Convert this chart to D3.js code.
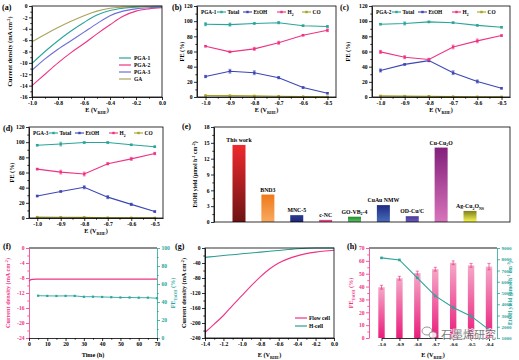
<!DOCTYPE html>
<html><head><meta charset="utf-8">
<script src="https://cdn.jsdelivr.net/npm/d3@7"></script>
<style>
body{margin:0;background:#fff}
svg{display:block}
text{font-family:'Liberation Serif','Times New Roman',serif;font-weight:bold}
</style>
</head><body>
<svg id="c" width="519" height="360"></svg>
<script>
// ---------- DATA ----------
// (a) LSV
const lsvE = [-1.0,-0.9,-0.8,-0.7,-0.6,-0.5,-0.4,-0.3,-0.2,-0.1,0.0];
const lsvPGA1 = [-10.1,-8.0,-6.1,-4.4,-2.9,-1.6,-0.8,-0.4,-0.2,-0.1,-0.1];
const lsvPGA2 = [-14.0,-12.0,-10.0,-8.2,-6.6,-4.9,-3.3,-1.8,-0.9,-0.5,-0.3];
const lsvPGA3 = [-11.3,-9.3,-7.6,-6.1,-4.6,-3.1,-1.7,-0.9,-0.5,-0.3,-0.2];
const lsvGA = [-6.3,-5.0,-3.8,-2.7,-1.7,-0.9,-0.4,-0.2,-0.1,-0.05,0.0];
const lsvNames = ["PGA-1","PGA-2","PGA-3","GA"];

// (b)(c)(d) FE
const feE = [-1.0,-0.9,-0.8,-0.7,-0.6,-0.5];
const feSeries = ["Total","EtOH","H2","CO"];
const pga1Total = [96,95.5,97,98,94,93];
const pga1EtOH = [27,34,32,25.5,12.5,5];
const pga1H2 = [67,59.5,63.5,71.5,81.5,88];
const pga1CO = [2,1.8,1.5,1,0.5,0.3];
const pga1Err = [[2,2,1,1.5,1,1.2],[1.5,2.5,2.5,1.5,1,1],[1,1,2,2,1,1.8],[0.5,0.5,0.4,0.3,0.2,0.2]];
const pga2Total = [96,97,99,98,94.5,92];
const pga2EtOH = [35,43,48,32,20.5,11.5];
const pga2H2 = [59.5,52.5,49.5,66,74,81];
const pga2CO = [1.5,1.2,1,0.5,0.3,0.2];
const pga2Err = [[1,2,1,1,1,1],[2,1,1.5,2.5,2,1],[2,2,1.5,2.5,2.5,1],[0.4,0.4,0.3,0.2,0.2,0.2]];
const pga3Total = [96,97.5,99.5,99.5,96.5,94];
const pga3EtOH = [29,35,40.5,27.5,18,8.5];
const pga3H2 = [64.5,60.5,58,71.5,78,85];
const pga3CO = [1.2,1,0.8,0.4,0.2,0.1];
const pga3Err = [[1,2.5,1,1,1,1],[1,1,2,2,1.5,1],[1,2.5,2.5,1.5,2,1.5],[0.3,0.3,0.3,0.2,0.1,0.1]];

// (e) yield comparison
const cmpNames = ["This work","BND3","MNC-5","c-NC","GO-VB2-4","CuAu NMW","OD-Cu/C","Cu-Cu2O","Ag-Cu2ONS"];
const cmpYield = [14.6,5.2,1.3,0.4,1.0,3.2,1.1,14.1,2.1];

// (f) stability
const stTime = [0,0.5,1,2,4,10,20,30,40,50,60,70];
const stCurrent = [-8.9,-8.6,-8.45,-8.35,-8.3,-8.3,-8.3,-8.3,-8.28,-8.3,-8.3,-8.3];
const stFeTime = [5,10,15,20,25,30,35,40,45,50,55,60,65,70];
const stFe = [47,46.8,46.7,46.8,46.8,45.8,45.9,45.6,45.3,45,45,44.8,44.8,44.2];

// (g) flow vs H-cell
const gE = [-1.4,-1.3,-1.2,-1.1,-1.0,-0.9,-0.8,-0.7,-0.6,-0.5,-0.4,-0.3,-0.2,-0.1,0.0];
const gFlow = [-225,-203,-180,-153,-127,-101,-77,-56,-40,-29,-21,-15,-11,-8,-6];
const gHcell = [-25,-22.5,-20,-17.8,-15.5,-13.2,-11,-8.8,-6.5,-4.2,-2,-0.5,0,0,0];

// (h) flow cell FE & yield
const hE = ["-1.0","-0.9","-0.8","-0.7","-0.6","-0.5","-0.4"];
const hFE = [39.5,46.5,50.5,53.5,58.5,56.5,55.5];
const hFEErr = [1.5,1.5,1.5,1.5,1.5,1.5,2.5];
const hYield = [8120,7940,6350,4740,3710,2940,1740];

// ---------- HELPERS ----------
const svg = d3.select('#c');
const defs = svg.append('defs');
const PINK = '#ee3384', TEAL = '#2aa59b', BLUE = '#3c46b4', OLIVE = '#a8a326';
const TFS = 5.6;

function styleAxis(a, color, fs){
  a.attr('font-family', null).attr('font-size', null);
  a.select('.domain').attr('stroke', color).attr('stroke-width', 0.8);
  a.selectAll('.tick line').attr('stroke', color).attr('stroke-width', 0.8);
  a.selectAll('.tick text').attr('fill', color).style('font-size', fs + 'px');
}
function addAxis(kind, scale, pos, vals, fmt, opt = {}){
  const color = opt.color || '#000', fs = opt.fs || TFS;
  const gen = kind === 'L' ? d3.axisLeft : kind === 'R' ? d3.axisRight : d3.axisBottom;
  const tr = kind === 'B' ? `translate(0,${pos})` : `translate(${pos},0)`;
  const a = svg.append('g').attr('transform', tr)
    .call(gen(scale).tickValues(vals).tickFormat(fmt).tickSize(3).tickSizeOuter(0).tickPadding(1.5));
  styleAxis(a, color, fs);
  if (opt.minor){
    const m = svg.append('g').attr('transform', tr)
      .call(gen(scale).tickValues(opt.minor).tickFormat('').tickSize(1.7).tickSizeOuter(0));
    styleAxis(m, color, fs); m.select('.domain').remove();
  }
  return a;
}
function frame(x0, y0, x1, y1){
  svg.append('rect').attr('x', x0).attr('y', y0).attr('width', x1 - x0).attr('height', y1 - y0)
    .attr('fill', 'none').attr('stroke', '#000').attr('stroke-width', 0.8);
}
function rich(x, y, parts, o = {}){
  const size = o.size || 6.2;
  const t = svg.append('text').attr('text-anchor', o.anchor || 'middle').attr('fill', o.fill || '#000')
    .style('font-size', size + 'px')
    .attr('transform', `translate(${x},${y}) rotate(${o.rotate || 0})`);
  let shift = 0;
  parts.forEach(p => {
    const [s, type] = Array.isArray(p) ? p : [p, 'n'];
    const target = type === 'sub' ? size * 0.3 : type === 'sup' ? -size * 0.38 : 0;
    t.append('tspan').attr('dy', target - shift)
      .style('font-size', (type === 'n' ? size : size * 0.68) + 'px').text(s);
    shift = target;
  });
  return t;
}
function panelLabel(x, y, s){ svg.append('text').attr('x', x).attr('y', y).style('font-size', '8px').text(s); }
const f1 = d => d.toFixed(1);
const f0 = d => String(d);
const ERHE = ['E (V', ['RHE', 'sub'], ')'];

// ---------- (a) ----------
(function(){
  const x0 = 32, x1 = 162, y0 = 6, y1 = 97;
  const x = d3.scaleLinear().domain([-1, 0]).range([x0, x1]);
  const y = d3.scaleLinear().domain([-16, 0]).range([y1, y0]);
  const cols = [TEAL, PINK, '#6b6fd6', '#aca35c'];
  const sets = [lsvPGA1, lsvPGA2, lsvPGA3, lsvGA];
  const line = d3.line().x((d, i) => x(lsvE[i])).y(d => y(d)).curve(d3.curveMonotoneX);
  sets.forEach((s, k) => svg.append('path').attr('d', line(s)).attr('fill', 'none').attr('stroke', cols[k]).attr('stroke-width', 1.1));
  frame(x0, y0, x1, y1);
  addAxis('L', y, x0, d3.range(-16, 1, 2), f0, {minor: d3.range(-15, 0, 2)});
  addAxis('B', x, y1, d3.range(-1, 0.01, 0.2), f1, {minor: d3.range(-0.9, 0, 0.2)});
  rich((x0 + x1) / 2, 112, ERHE);
  rich(12, (y0 + y1) / 2, ['Current density (mA cm', ['-2', 'sup'], ')'], {rotate: -90});
  lsvNames.forEach((n, k) => {
    const yy = 58 + k * 7;
    svg.append('line').attr('x1', 119).attr('x2', 131).attr('y1', yy).attr('y2', yy).attr('stroke', cols[k]).attr('stroke-width', 1.2);
    svg.append('text').attr('x', 134).attr('y', yy + 2).style('font-size', '5.5px').text(n);
  });
  panelLabel(2, 10, '(a)');
})();

// ---------- (b)(c)(d) ----------
function fePanel(x0, x1, y0, y1, name, series, errs, lab, labX, titleX){
  const x = d3.scaleLinear().domain([-1.035, -0.465]).range([x0, x1]);
  const y = d3.scaleLinear().domain([0, 120]).range([y1, y0]);
  const cols = [TEAL, BLUE, PINK, OLIVE];
  const line = d3.line().x((d, i) => x(feE[i])).y(d => y(d));
  series.forEach((s, k) => {
    svg.append('path').attr('d', line(s)).attr('fill', 'none').attr('stroke', cols[k]).attr('stroke-width', 1.1);
    s.forEach((v, i) => {
      const e = errs[k][i], cx = x(feE[i]);
      svg.append('line').attr('x1', cx).attr('x2', cx).attr('y1', y(v - e)).attr('y2', y(v + e)).attr('stroke', cols[k]).attr('stroke-width', 0.7);
      [v - e, v + e].forEach(w => svg.append('line').attr('x1', cx - 1.5).attr('x2', cx + 1.5).attr('y1', y(w)).attr('y2', y(w)).attr('stroke', cols[k]).attr('stroke-width', 0.6));
      svg.append('rect').attr('x', cx - 1.2).attr('y', y(v) - 1.2).attr('width', 2.4).attr('height', 2.4).attr('fill', cols[k]);
    });
  });
  frame(x0, y0, x1, y1);
  addAxis('L', y, x0, d3.range(0, 121, 20), f0, {minor: d3.range(10, 120, 20)});
  addAxis('B', x, y1, feE, f1, {minor: [-0.95, -0.85, -0.75, -0.65, -0.55]});
  rich((x0 + x1) / 2, y1 + 15, ERHE);
  rich(titleX, (y0 + y1) / 2, ['FE (%)'], {rotate: -90});
  const ly = y0 + 6;
  svg.append('text').attr('x', x0 + 4).attr('y', ly + 2).style('font-size', '5.2px').text(name);
  const items = [[20, 'Total'], [46, 'EtOH'], [80, 'H2'], [105, 'CO']];
  items.forEach(([dx, t], k) => {
    svg.append('line').attr('x1', x0 + dx).attr('x2', x0 + dx + 9).attr('y1', ly).attr('y2', ly).attr('stroke', cols[k]).attr('stroke-width', 1.1);
    svg.append('rect').attr('x', x0 + dx + 3.3).attr('y', ly - 1.2).attr('width', 2.4).attr('height', 2.4).attr('fill', cols[k]);
    const parts = t === 'H2' ? ['H', ['2', 'sub']] : [t];
    rich(x0 + dx + 10.5, ly + 2, parts, {anchor: 'start', size: 5.4});
  });
  panelLabel(labX, y0 + 4, lab);
}
fePanel(197, 336, 6, 97, 'PGA-1', [pga1Total, pga1EtOH, pga1H2, pga1CO], pga1Err, '(b)', 172, 184);
fePanel(372, 510, 6, 97, 'PGA-2', [pga2Total, pga2EtOH, pga2H2, pga2CO], pga2Err, '(c)', 340, 350);
fePanel(29, 163, 127, 218, 'PGA-3', [pga3Total, pga3EtOH, pga3H2, pga3CO], pga3Err, '(d)', 3, 14);

// ---------- (e) ----------
(function(){
  const x0 = 214, x1 = 510, y0 = 127, y1 = 222;
  const x = d3.scalePoint().domain(cmpNames).range([239, 470]);
  const y = d3.scaleLinear().domain([0, 18]).range([y1, y0]);
  const grads = [['#ee2a2e', '#6e1414'], ['#f07818', '#f7ab62'], ['#2b3b92', '#1e2a78'], ['#e8307a', '#f062a2'],
                 ['#1d8c32', '#64c464'], ['#1c2b82', '#4a6cba'], ['#4a3a98', '#6a5cb8'], ['#82207c', '#d874ba'], ['#7e7e1e', '#fafa52']];
  cmpNames.forEach((n, i) => {
    const g = defs.append('linearGradient').attr('id', 'eg' + i).attr('x1', 0).attr('x2', 0).attr('y1', 0).attr('y2', 1);
    g.append('stop').attr('offset', '0%').attr('stop-color', grads[i][0]);
    g.append('stop').attr('offset', '100%').attr('stop-color', grads[i][1]);
    const v = cmpYield[i], cx = x(n);
    svg.append('rect').attr('x', cx - 6.5).attr('y', y(v)).attr('width', 13).attr('height', y(0) - y(v)).attr('fill', `url(#eg${i})`);
    let parts = [n];
    if (n === 'GO-VB2-4') parts = ['GO-VB', ['2', 'sub'], '-4'];
    if (n === 'Cu-Cu2O') parts = ['Cu-Cu', ['2', 'sub'], 'O'];
    if (n === 'Ag-Cu2ONS') parts = ['Ag-Cu', ['2', 'sub'], 'O', ['NS', 'sub']];
    rich(cx, y(v) - 3, parts, {size: 5.8});
  });
  frame(x0, y0, x1, y1);
  addAxis('L', y, x0, d3.range(0, 19, 3), f0, {minor: d3.range(1.5, 18, 3)});
  rich(197, (y0 + y1) / 2, ['EtOH yield (μmol h', ['-1', 'sup'], ' cm', ['-2', 'sup'], ')'], {rotate: -90, size: 5.8});
  panelLabel(182, 129, '(e)');
})();

// ---------- (f) ----------
(function(){
  const x0 = 29, x1 = 157, y0 = 248, y1 = 338;
  const x = d3.scaleLinear().domain([0, 70]).range([x0, x1]);
  const yl = d3.scaleLinear().domain([-24, 0]).range([y1, y0]);
  const yr = d3.scaleLinear().domain([0, 100]).range([y1, y0]);
  svg.append('path').attr('d', d3.line().x((d, i) => x(stTime[i])).y(d => yl(d))(stCurrent))
    .attr('fill', 'none').attr('stroke', PINK).attr('stroke-width', 1.2);
  svg.append('path').attr('d', d3.line().x((d, i) => x(stFeTime[i])).y(d => yr(d))(stFe))
    .attr('fill', 'none').attr('stroke', TEAL).attr('stroke-width', 0.9);
  stFe.forEach((v, i) => svg.append('rect').attr('x', x(stFeTime[i]) - 1.1).attr('y', yr(v) - 1.1).attr('width', 2.2).attr('height', 2.2).attr('fill', TEAL));
  svg.append('line').attr('x1', x0).attr('x2', x1).attr('y1', y0).attr('y2', y0).attr('stroke', '#8c8c8c').attr('stroke-width', 2.2);
  addAxis('L', yl, x0, d3.range(-24, 1, 4), f0, {color: PINK, minor: d3.range(-22, 0, 4)});
  addAxis('R', yr, x1, d3.range(0, 101, 20), f0, {color: TEAL, minor: d3.range(10, 100, 20)});
  addAxis('B', x, y1, d3.range(0, 71, 10), f0, {minor: d3.range(5, 70, 10)});
  rich((x0 + x1) / 2, 357, ['Time (h)']);
  rich(10, (y0 + y1) / 2, ['Current density (mA cm', ['-2', 'sup'], ')'], {rotate: -90, fill: PINK});
  rich(175, (y0 + y1) / 2, ['FE', ['EtOH', 'sub'], ' (%)'], {rotate: -90, fill: TEAL});
  panelLabel(3, 249, '(f)');
})();

// ---------- (g) ----------
(function(){
  const x0 = 205, x1 = 334, y0 = 248, y1 = 338;
  const x = d3.scaleLinear().domain([-1.4, 0]).range([x0, x1]);
  const y = d3.scaleLinear().domain([-240, 0]).range([y1, y0]);
  const line = d3.line().x((d, i) => x(gE[i])).y(d => y(d)).curve(d3.curveMonotoneX);
  svg.append('path').attr('d', line(gHcell)).attr('fill', 'none').attr('stroke', '#2a9d94').attr('stroke-width', 1.1);
  svg.append('path').attr('d', line(gFlow)).attr('fill', 'none').attr('stroke', PINK).attr('stroke-width', 1.1);
  frame(x0, y0, x1, y1);
  addAxis('L', y, x0, d3.range(-240, 1, 40), f0, {minor: d3.range(-220, 0, 40)});
  addAxis('B', x, y1, d3.range(-1.4, 0.01, 0.2), f1, {minor: d3.range(-1.3, 0, 0.2)});
  rich((x0 + x1) / 2, 357, ERHE);
  rich(186, (y0 + y1) / 2, ['Current density (mA cm', ['-2', 'sup'], ')'], {rotate: -90});
  [['Flow cell', PINK, 318], ['H-cell', '#2a9d94', 326]].forEach(([t, c, yy]) => {
    svg.append('line').attr('x1', 295).attr('x2', 307).attr('y1', yy).attr('y2', yy).attr('stroke', c).attr('stroke-width', 1.2);
    svg.append('text').attr('x', 309).attr('y', yy + 2).style('font-size', '5.5px').text(t);
  });
  panelLabel(175, 249, '(g)');
})();

// ---------- (h) ----------
(function(){
  const x0 = 369, x1 = 497, y0 = 248, y1 = 338;
  const x = d3.scalePoint().domain(hE).range([381.5, 489]);
  const yl = d3.scaleLinear().domain([0, 70]).range([y1, y0]);
  const yr = d3.scaleLinear().domain([1000, 9000]).range([y1, y0]);
  const g = defs.append('linearGradient').attr('id', 'hg').attr('x1', 0).attr('x2', 0).attr('y1', 0).attr('y2', 1);
  g.append('stop').attr('offset', '0%').attr('stop-color', '#f5a9c8');
  g.append('stop').attr('offset', '100%').attr('stop-color', '#ea1d7c');
  hE.forEach((e, i) => {
    const cx = x(e), v = hFE[i], er = hFEErr[i];
    svg.append('rect').attr('x', cx - 3.2).attr('y', yl(v)).attr('width', 6.4).attr('height', yl(0) - yl(v)).attr('fill', 'url(#hg)');
    svg.append('line').attr('x1', cx).attr('x2', cx).attr('y1', yl(v - er)).attr('y2', yl(v + er)).attr('stroke', '#e8327e').attr('stroke-width', 0.7);
    [v - er, v + er].forEach(w => svg.append('line').attr('x1', cx - 1.6).attr('x2', cx + 1.6).attr('y1', yl(w)).attr('y2', yl(w)).attr('stroke', '#e8327e').attr('stroke-width', 0.6));
  });
  svg.append('path').attr('d', d3.line().x((d, i) => x(hE[i])).y(d => yr(d))(hYield))
    .attr('fill', 'none').attr('stroke', TEAL).attr('stroke-width', 1.1);
  hYield.forEach((v, i) => svg.append('rect').attr('x', x(hE[i]) - 1.3).attr('y', yr(v) - 1.3).attr('width', 2.6).attr('height', 2.6).attr('fill', TEAL));
  svg.append('line').attr('x1', x0).attr('x2', x1).attr('y1', y0).attr('y2', y0).attr('stroke', '#8c8c8c').attr('stroke-width', 2.2);
  addAxis('L', yl, x0, d3.range(0, 71, 10), f0, {color: PINK, minor: d3.range(5, 70, 10)});
  addAxis('R', yr, x1, d3.range(1000, 9001, 1000), f0, {color: TEAL, fs: 5});
  addAxis('B', x, y1, hE, d => d, {fs: 5});
  rich((x0 + x1) / 2, 357, ERHE);
  rich(353, (y0 + y1) / 2, ['FE', ['EtOH', 'sub'], ' (%)'], {rotate: -90, fill: PINK});
  rich(512, (y0 + y1) / 2, ['EtOH yield (μmol h', ['-1', 'sup'], ' cm', ['-2', 'sup'], ')'], {rotate: -90, fill: TEAL, size: 5.6});
  panelLabel(347, 249, '(h)');
  // watermark
  const wm = svg.append('g').attr('opacity', 0.85);
  wm.append('ellipse').attr('cx', 427).attr('cy', 331).attr('rx', 5).attr('ry', 4).attr('fill', 'none').attr('stroke', '#777').attr('stroke-width', 0.9);
  wm.append('ellipse').attr('cx', 433).attr('cy', 335).attr('rx', 4).attr('ry', 3.3).attr('fill', '#fff').attr('stroke', '#777').attr('stroke-width', 0.9);
  wm.append('text').attr('x', 441).attr('y', 339).attr('fill', '#666').attr('stroke', '#fff').attr('stroke-width', 1.6).attr('paint-order', 'stroke')
    .style('font-family', "'Noto Sans CJK SC', sans-serif").style('font-weight', 'normal').style('font-size', '11px').text('石墨烯研究');
})();
</script>
</body></html>
